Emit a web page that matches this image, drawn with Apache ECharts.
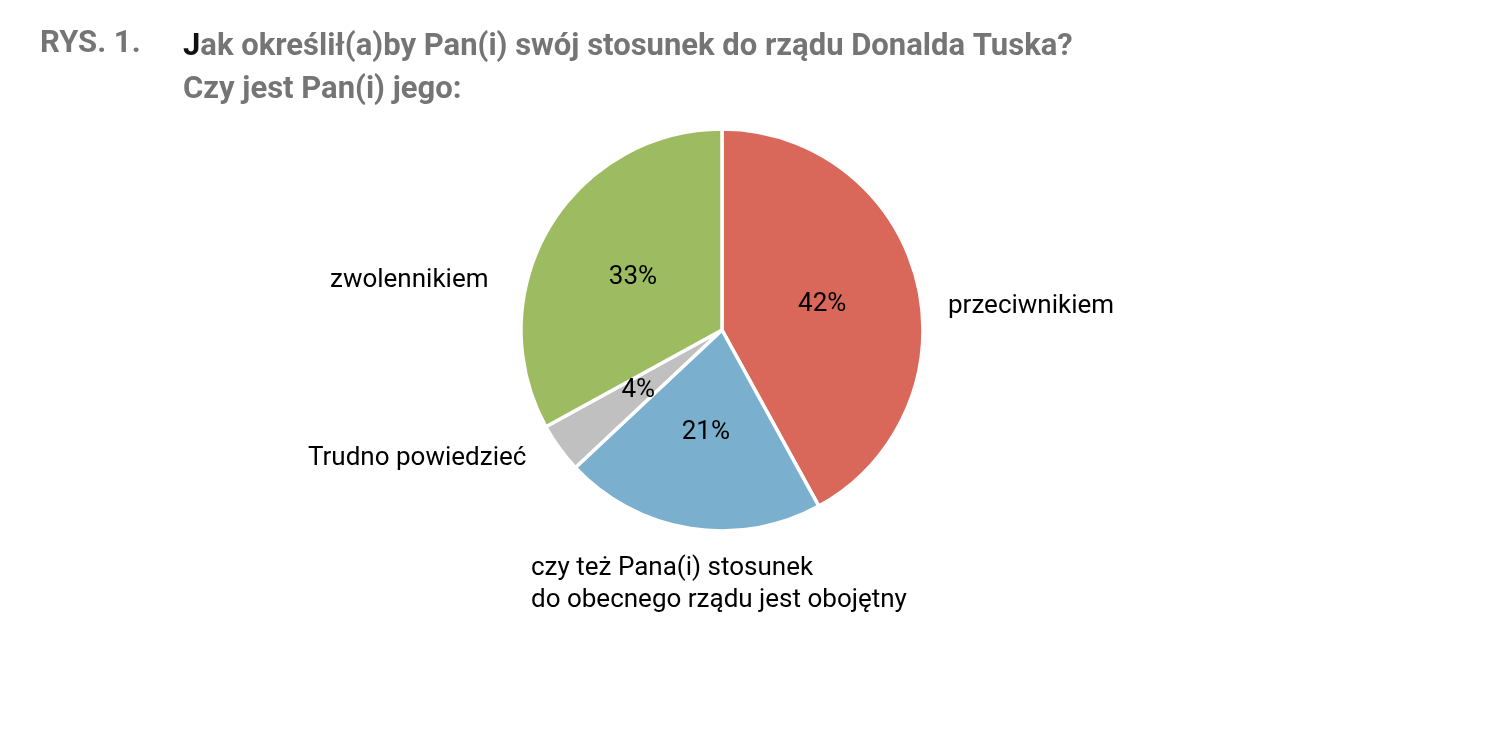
<!DOCTYPE html>
<html><head><meta charset="utf-8">
<script src="https://cdn.jsdelivr.net/npm/echarts@6/dist/echarts.min.js"></script>
<style>html,body{margin:0;padding:0;background:#fff}#c{width:1488px;height:738px}</style>
</head><body><div id="c"></div>
<script>
const categories = ['przeciwnikiem', 'czy też Pana(i) stosunek\ndo obecnego rządu jest obojętny', 'Trudno powiedzieć', 'zwolennikiem'];
const values = [42, 21, 4, 33];
const colors = ['#d9675a', '#7bafce', '#c0c0c0', '#9dbc61'];
const chart = echarts.init(document.getElementById('c'));
const F = 'Roboto, "Liberation Sans", sans-serif';
const outerLabels = [
  {x: 948, y: 306, t: categories[0]},
  {x: 531, y: 568, t: categories[1]},
  {x: 308, y: 458, t: categories[2]},
  {x: 330, y: 280, t: categories[3]}
];
chart.setOption({
  animation: false,
  title: {
    text: 'RYS. 1.',
    left: 35, top: 24,
    textStyle: {fontFamily: F, fontSize: 31, fontWeight: 'bold', color: '#757575'}
  },
  graphic: [
    {type: 'text', left: 183, top: 26, style: {
      text: '{j|J}{g|ak określił(a)by Pan(i) swój stosunek do rządu Donalda Tuska?}\n{g|Czy jest Pan(i) jego:}',
      lineHeight: 43,
      rich: {
        j: {fontFamily: F, fontSize: 31, fontWeight: 'bold', fill: '#111', lineHeight: 43},
        g: {fontFamily: F, fontSize: 31, fontWeight: 'bold', fill: '#757575', lineHeight: 43}
      }
    }}
  ].concat(outerLabels.map(o => ({
    type: 'text', left: o.x, top: o.y - 16,
    style: {text: o.t, fontFamily: F, fontSize: 26, fill: '#000', lineHeight: 32}
  }))),
  series: [{
    type: 'pie',
    center: [722, 330],
    radius: [0, 201],
    startAngle: 90,
    clockwise: true,
    data: categories.map((c, i) => ({name: c, value: values[i], itemStyle: {color: colors[i]}})),
    itemStyle: {borderColor: '#fff', borderWidth: 3.5},
    label: {position: 'inside', formatter: '{c}%', fontFamily: F, fontSize: 26, color: '#000'},
    labelLine: {show: false}
  }]
});
</script></body></html>
